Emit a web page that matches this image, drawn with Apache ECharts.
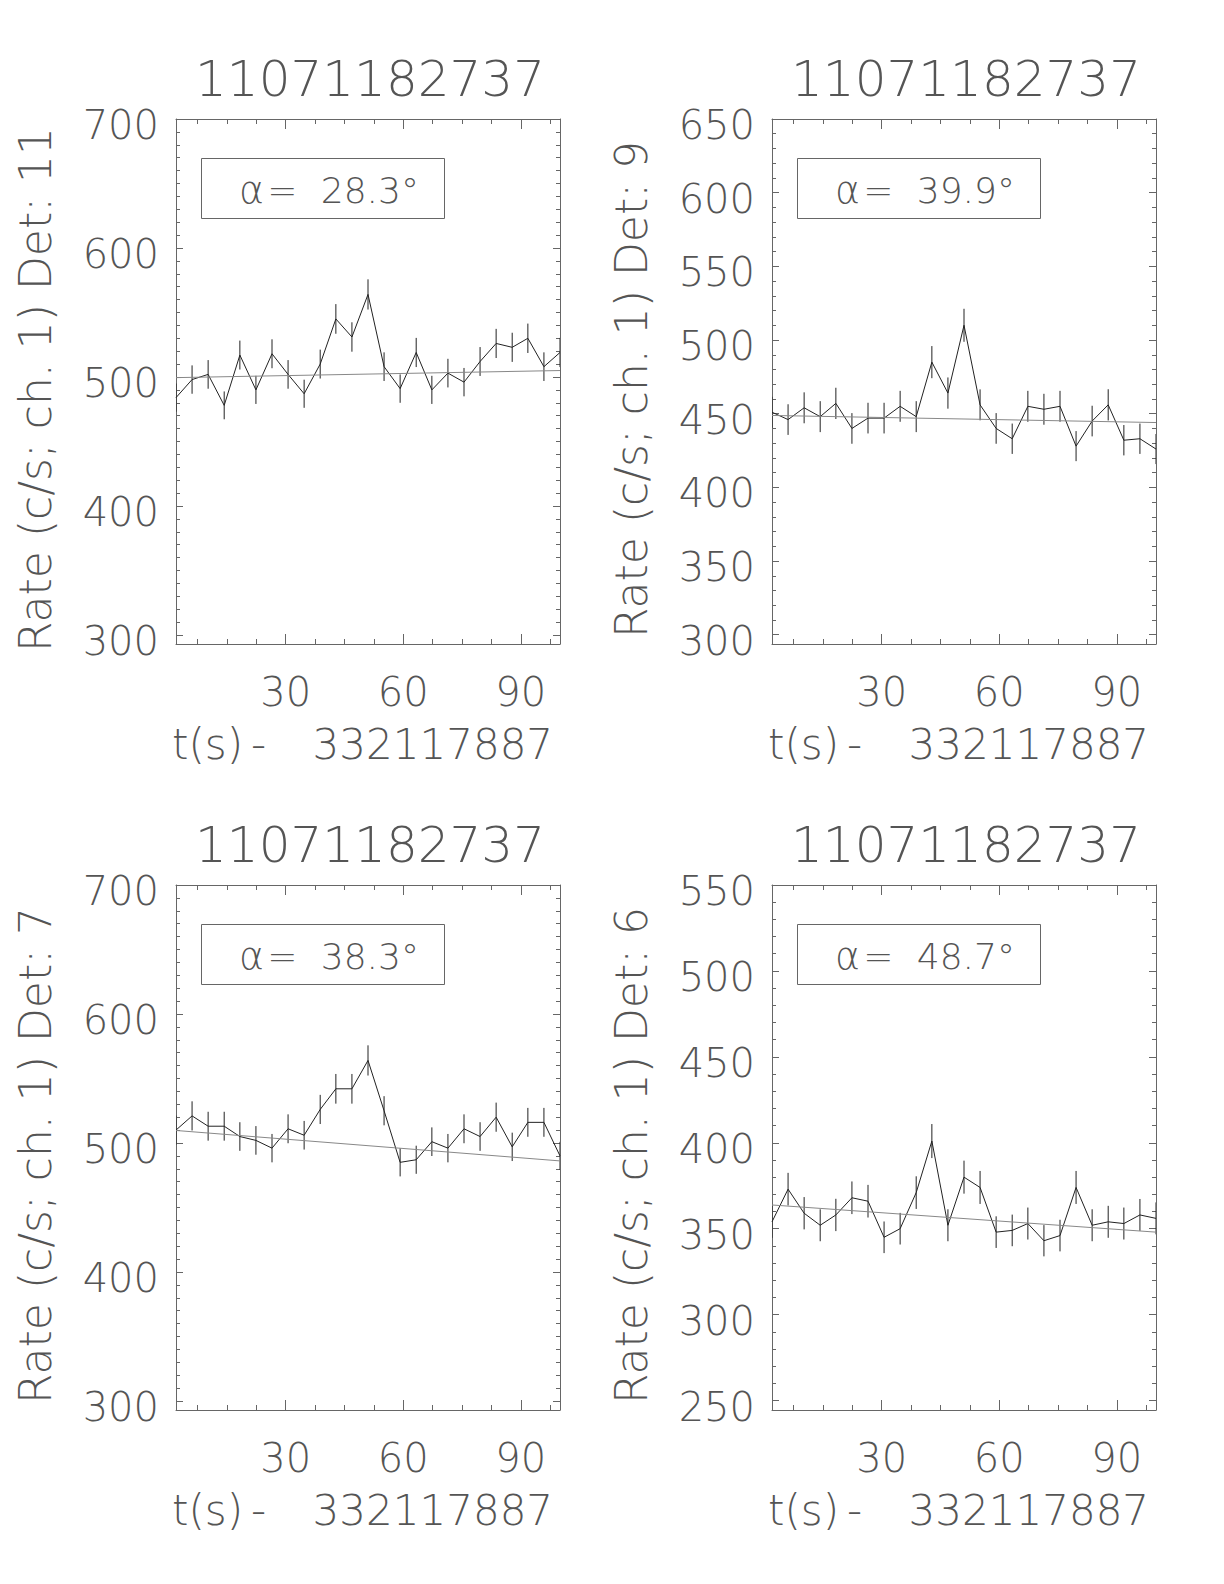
<!DOCTYPE html>
<html><head><meta charset="utf-8">
<script src="https://cdn.jsdelivr.net/npm/echarts@6/dist/echarts.min.js"></script>
<style>html,body{margin:0;padding:0;background:#fff}#c{width:1224px;height:1584px}</style>
</head><body><div id="c"></div>
<script>
// ---- data ----
const titles = ['11071182737', '11071182737', '11071182737', '11071182737'];
const detectors = ['11', '9', '7', '6'];
const alphas = ['28.3', '39.9', '38.3', '48.7'];
const xNameTime = 't(s)';
const xNameOffset = '332117887';
const times = [2.0, 6.1, 10.2, 14.3, 18.3, 22.4, 26.5, 30.6, 34.7, 38.8, 42.8, 46.9, 51.0,
               55.1, 59.2, 63.3, 67.3, 71.4, 75.5, 79.6, 83.7, 87.8, 91.8, 95.9, 100.0];
const xTicks = [30, 60, 90];

const det11Rate = [484, 498, 502, 478, 517, 490, 518, 502, 487, 510, 545, 531, 564, 508, 491, 519, 490, 503, 496, 512, 526, 523, 530, 508, 519];
const det11Err  = [10.9, 11.0, 11.1, 10.8, 11.2, 10.9, 11.2, 11.1, 10.9, 11.2, 11.5, 11.4, 11.7, 11.1, 11.0, 11.3, 10.9, 11.1, 11.0, 11.2, 11.3, 11.3, 11.4, 11.1, 11.3];
const det11Fit  = [499.5, 505.0];
const det11Ticks = [300, 400, 500, 600, 700];

const det9Rate = [451, 446, 454, 448, 457, 440, 447, 447, 455, 448, 485, 464, 510, 456, 440, 433, 455, 453, 455, 428, 445, 456, 432, 433, 426];
const det9Err  = [10.5, 10.4, 10.5, 10.5, 10.6, 10.4, 10.4, 10.4, 10.5, 10.5, 10.9, 10.6, 11.2, 10.5, 10.4, 10.3, 10.5, 10.5, 10.5, 10.2, 10.4, 10.6, 10.3, 10.3, 10.2];
const det9Fit  = [448.8, 444.0];
const det9Ticks = [300, 350, 400, 450, 500, 550, 600, 650];

const det7Rate = [510, 521, 513, 513, 505, 502, 496, 511, 506, 526, 542, 542, 564, 525, 485, 487, 501, 496, 511, 505, 520, 497, 516, 516, 490];
const det7Err  = [11.2, 11.3, 11.2, 11.2, 11.1, 11.1, 11.0, 11.2, 11.1, 11.3, 11.5, 11.5, 11.7, 11.3, 10.9, 10.9, 11.1, 11.0, 11.2, 11.1, 11.3, 11.0, 11.2, 11.2, 10.9];
const det7Fit  = [509.7, 486.1];
const det7Ticks = [300, 400, 500, 600, 700];

const det6Rate = [354, 373, 359, 352, 358, 368, 366, 345, 350, 371, 401, 352, 380, 374, 348, 349, 353, 343, 346, 374, 352, 354, 353, 358, 356];
const det6Err  = [9.3, 9.5, 9.4, 9.3, 9.4, 9.5, 9.5, 9.2, 9.2, 9.5, 9.9, 9.3, 9.6, 9.6, 9.2, 9.2, 9.3, 9.1, 9.2, 9.6, 9.3, 9.3, 9.3, 9.3, 9.3];
const det6Fit  = [363.8, 348.0];
const det6Ticks = [250, 300, 350, 400, 450, 500, 550];

const fitTimes = [2, 100];

// ---- layout / style ----
const FONT = '"DejaVu Sans", Inter, sans-serif';
const TXT = '#555';
const AX = '#666';
const GW = 384, GH = 525;
const panels = [
  {left: 176, top: 119, rate: det11Rate, err: det11Err, fit: det11Fit, ticks: det11Ticks, yMin: 293,   yMax: 700, minor: 10},
  {left: 772, top: 119, rate: det9Rate,  err: det9Err,  fit: det9Fit,  ticks: det9Ticks,  yMin: 293.7, yMax: 650, minor: 10},
  {left: 176, top: 885, rate: det7Rate,  err: det7Err,  fit: det7Fit,  ticks: det7Ticks,  yMin: 293,   yMax: 700, minor: 10},
  {left: 772, top: 885, rate: det6Rate,  err: det6Err,  fit: det6Fit,  ticks: det6Ticks,  yMin: 244.5, yMax: 550, minor: 10}
];
const X_MIN = 2, X_MAX = 100, X_MINOR = 7.5;

function minorList(lo, hi, step, majors) {
  const out = [];
  const start = Math.ceil(lo / step) * step;
  for (let v = start; v <= hi + 1e-9; v += step) {
    const r = Math.round(v * 100) / 100;
    if (!majors.some(m => Math.abs(m - r) < 1e-6)) out.push(r);
  }
  return out;
}

const grid = [], xAxis = [], yAxis = [], series = [], graphic = [];
const lineSt = {color: AX, width: 1};
const labelSt = {fontFamily: FONT, fontWeight: 200, fontSize: 40, color: TXT};

panels.forEach((p, i) => {
  grid.push({left: p.left, top: p.top, width: GW, height: GH, containLabel: false});
  const xMinor = minorList(X_MIN, X_MAX, X_MINOR, xTicks);
  const yMinor = minorList(p.yMin, p.yMax, p.minor, p.ticks);
  const xBase = {gridIndex: i, type: 'value', min: X_MIN, max: X_MAX, splitLine: {show: false}};
  const yBase = {gridIndex: i, type: 'value', min: p.yMin, max: p.yMax, splitLine: {show: false}};
  xAxis.push(Object.assign({}, xBase, {
    position: 'bottom',
    axisLine: {show: true, onZero: false, lineStyle: lineSt},
    axisTick: {show: true, inside: true, length: 10, customValues: xTicks, lineStyle: lineSt},
    axisLabel: {show: true, customValues: xTicks, margin: 28, ...labelSt},
    name: '{n|' + xNameTime + '}{d|-} {n|' + xNameOffset + '}', nameLocation: 'middle', nameGap: 79,
    nameTextStyle: {...labelSt, fontSize: 42, padding: [0, 11, 0, 0], rich: {
      n: {fontFamily: FONT, fontWeight: 200, fontSize: 42, color: TXT},
      d: {fontFamily: FONT, fontWeight: 200, fontSize: 42, color: TXT, padding: [0, 33, 0, 8]}
    }}
  }));
  xAxis.push(Object.assign({}, xBase, {
    position: 'bottom', axisLine: {show: false},
    axisTick: {show: true, inside: true, length: 5, customValues: xMinor, lineStyle: lineSt},
    axisLabel: {show: false}
  }));
  xAxis.push(Object.assign({}, xBase, {
    position: 'top', axisLine: {show: true, onZero: false, lineStyle: lineSt},
    axisTick: {show: true, inside: true, length: 10, customValues: xTicks, lineStyle: lineSt},
    axisLabel: {show: false}
  }));
  xAxis.push(Object.assign({}, xBase, {
    position: 'top', axisLine: {show: false},
    axisTick: {show: true, inside: true, length: 5, customValues: xMinor, lineStyle: lineSt},
    axisLabel: {show: false}
  }));
  yAxis.push(Object.assign({}, yBase, {
    position: 'left',
    axisLine: {show: true, onZero: false, lineStyle: lineSt},
    axisTick: {show: true, inside: true, length: 7, customValues: p.ticks, lineStyle: lineSt},
    axisLabel: {show: true, customValues: p.ticks, margin: 17, ...labelSt,
                formatter: '{v|{value}}',
                rich: {v: {fontFamily: FONT, fontWeight: 200, fontSize: 40, color: TXT, padding: [12, 0, 0, 0]}}},
    name: 'Rate (c/s; ch. 1) Det: ' + detectors[i], nameLocation: 'middle', nameGap: 119,
    nameTextStyle: {...labelSt, fontSize: 44, padding: [0, 16, 0, 0]}
  }));
  yAxis.push(Object.assign({}, yBase, {
    position: 'left', axisLine: {show: false},
    axisTick: {show: true, inside: true, length: 4, customValues: yMinor, lineStyle: lineSt},
    axisLabel: {show: false}
  }));
  yAxis.push(Object.assign({}, yBase, {
    position: 'right', axisLine: {show: true, onZero: false, lineStyle: lineSt},
    axisTick: {show: true, inside: true, length: 7, customValues: p.ticks, lineStyle: lineSt},
    axisLabel: {show: false}
  }));
  yAxis.push(Object.assign({}, yBase, {
    position: 'right', axisLine: {show: false},
    axisTick: {show: true, inside: true, length: 4, customValues: yMinor, lineStyle: lineSt},
    axisLabel: {show: false}
  }));

  const ax = 4 * i;
  series.push({
    type: 'custom', xAxisIndex: ax, yAxisIndex: ax, clip: true,
    data: times.map((t, k) => [t, p.rate[k] - p.err[k], p.rate[k] + p.err[k]]),
    encode: {x: 0, y: [1, 2]},
    renderItem: (params, api) => {
      const a = api.coord([api.value(0), api.value(1)]);
      const b = api.coord([api.value(0), api.value(2)]);
      return {type: 'line', shape: {x1: a[0], y1: a[1], x2: b[0], y2: b[1]},
              style: {stroke: '#222', lineWidth: 1}};
    },
    silent: true
  });
  series.push({
    type: 'line', xAxisIndex: ax, yAxisIndex: ax, showSymbol: false, clip: true,
    data: times.map((t, k) => [t, p.rate[k]]),
    lineStyle: {color: '#222', width: 1}, silent: true
  });
  series.push({
    type: 'line', xAxisIndex: ax, yAxisIndex: ax, showSymbol: false, clip: true,
    data: fitTimes.map((t, k) => [t, p.fit[k]]),
    lineStyle: {color: '#888', width: 1}, silent: true
  });

  // title above plot
  graphic.push({
    type: 'text', x: p.left + GW / 2 + 2, y: p.top - 40,
    style: {text: titles[i], fontFamily: FONT, fontWeight: 200, fontSize: 50, fill: TXT,
            align: 'center', verticalAlign: 'middle'}
  });
  // annotation box
  graphic.push({
    type: 'rect', shape: {x: p.left + 25.5, y: p.top + 39.5, width: 243, height: 60},
    style: {fill: 'rgba(0,0,0,0)', stroke: AX, lineWidth: 1}
  });
  graphic.push({
    type: 'text', x: p.left + 153, y: p.top + 71,
    style: {text: '{a|α}{e|=} ' + alphas[i] + '°', fontFamily: FONT, fontWeight: 200, fontSize: 36, fill: TXT,
            align: 'center', verticalAlign: 'middle',
            rich: {
              a: {fontFamily: FONT, fontWeight: 200, fontSize: 38, fill: TXT, padding: [0, 3, 0, 0]},
              e: {fontFamily: FONT, fontWeight: 200, fontSize: 36, fill: TXT, padding: [0, 12, 0, 0]}
            }}
  });
});

const chart = echarts.init(document.getElementById('c'), null, {renderer: 'svg', width: 1224, height: 1584});
chart.setOption({
  backgroundColor: '#fff',
  animation: false,
  grid, xAxis, yAxis, series, graphic
});
</script></body></html>
